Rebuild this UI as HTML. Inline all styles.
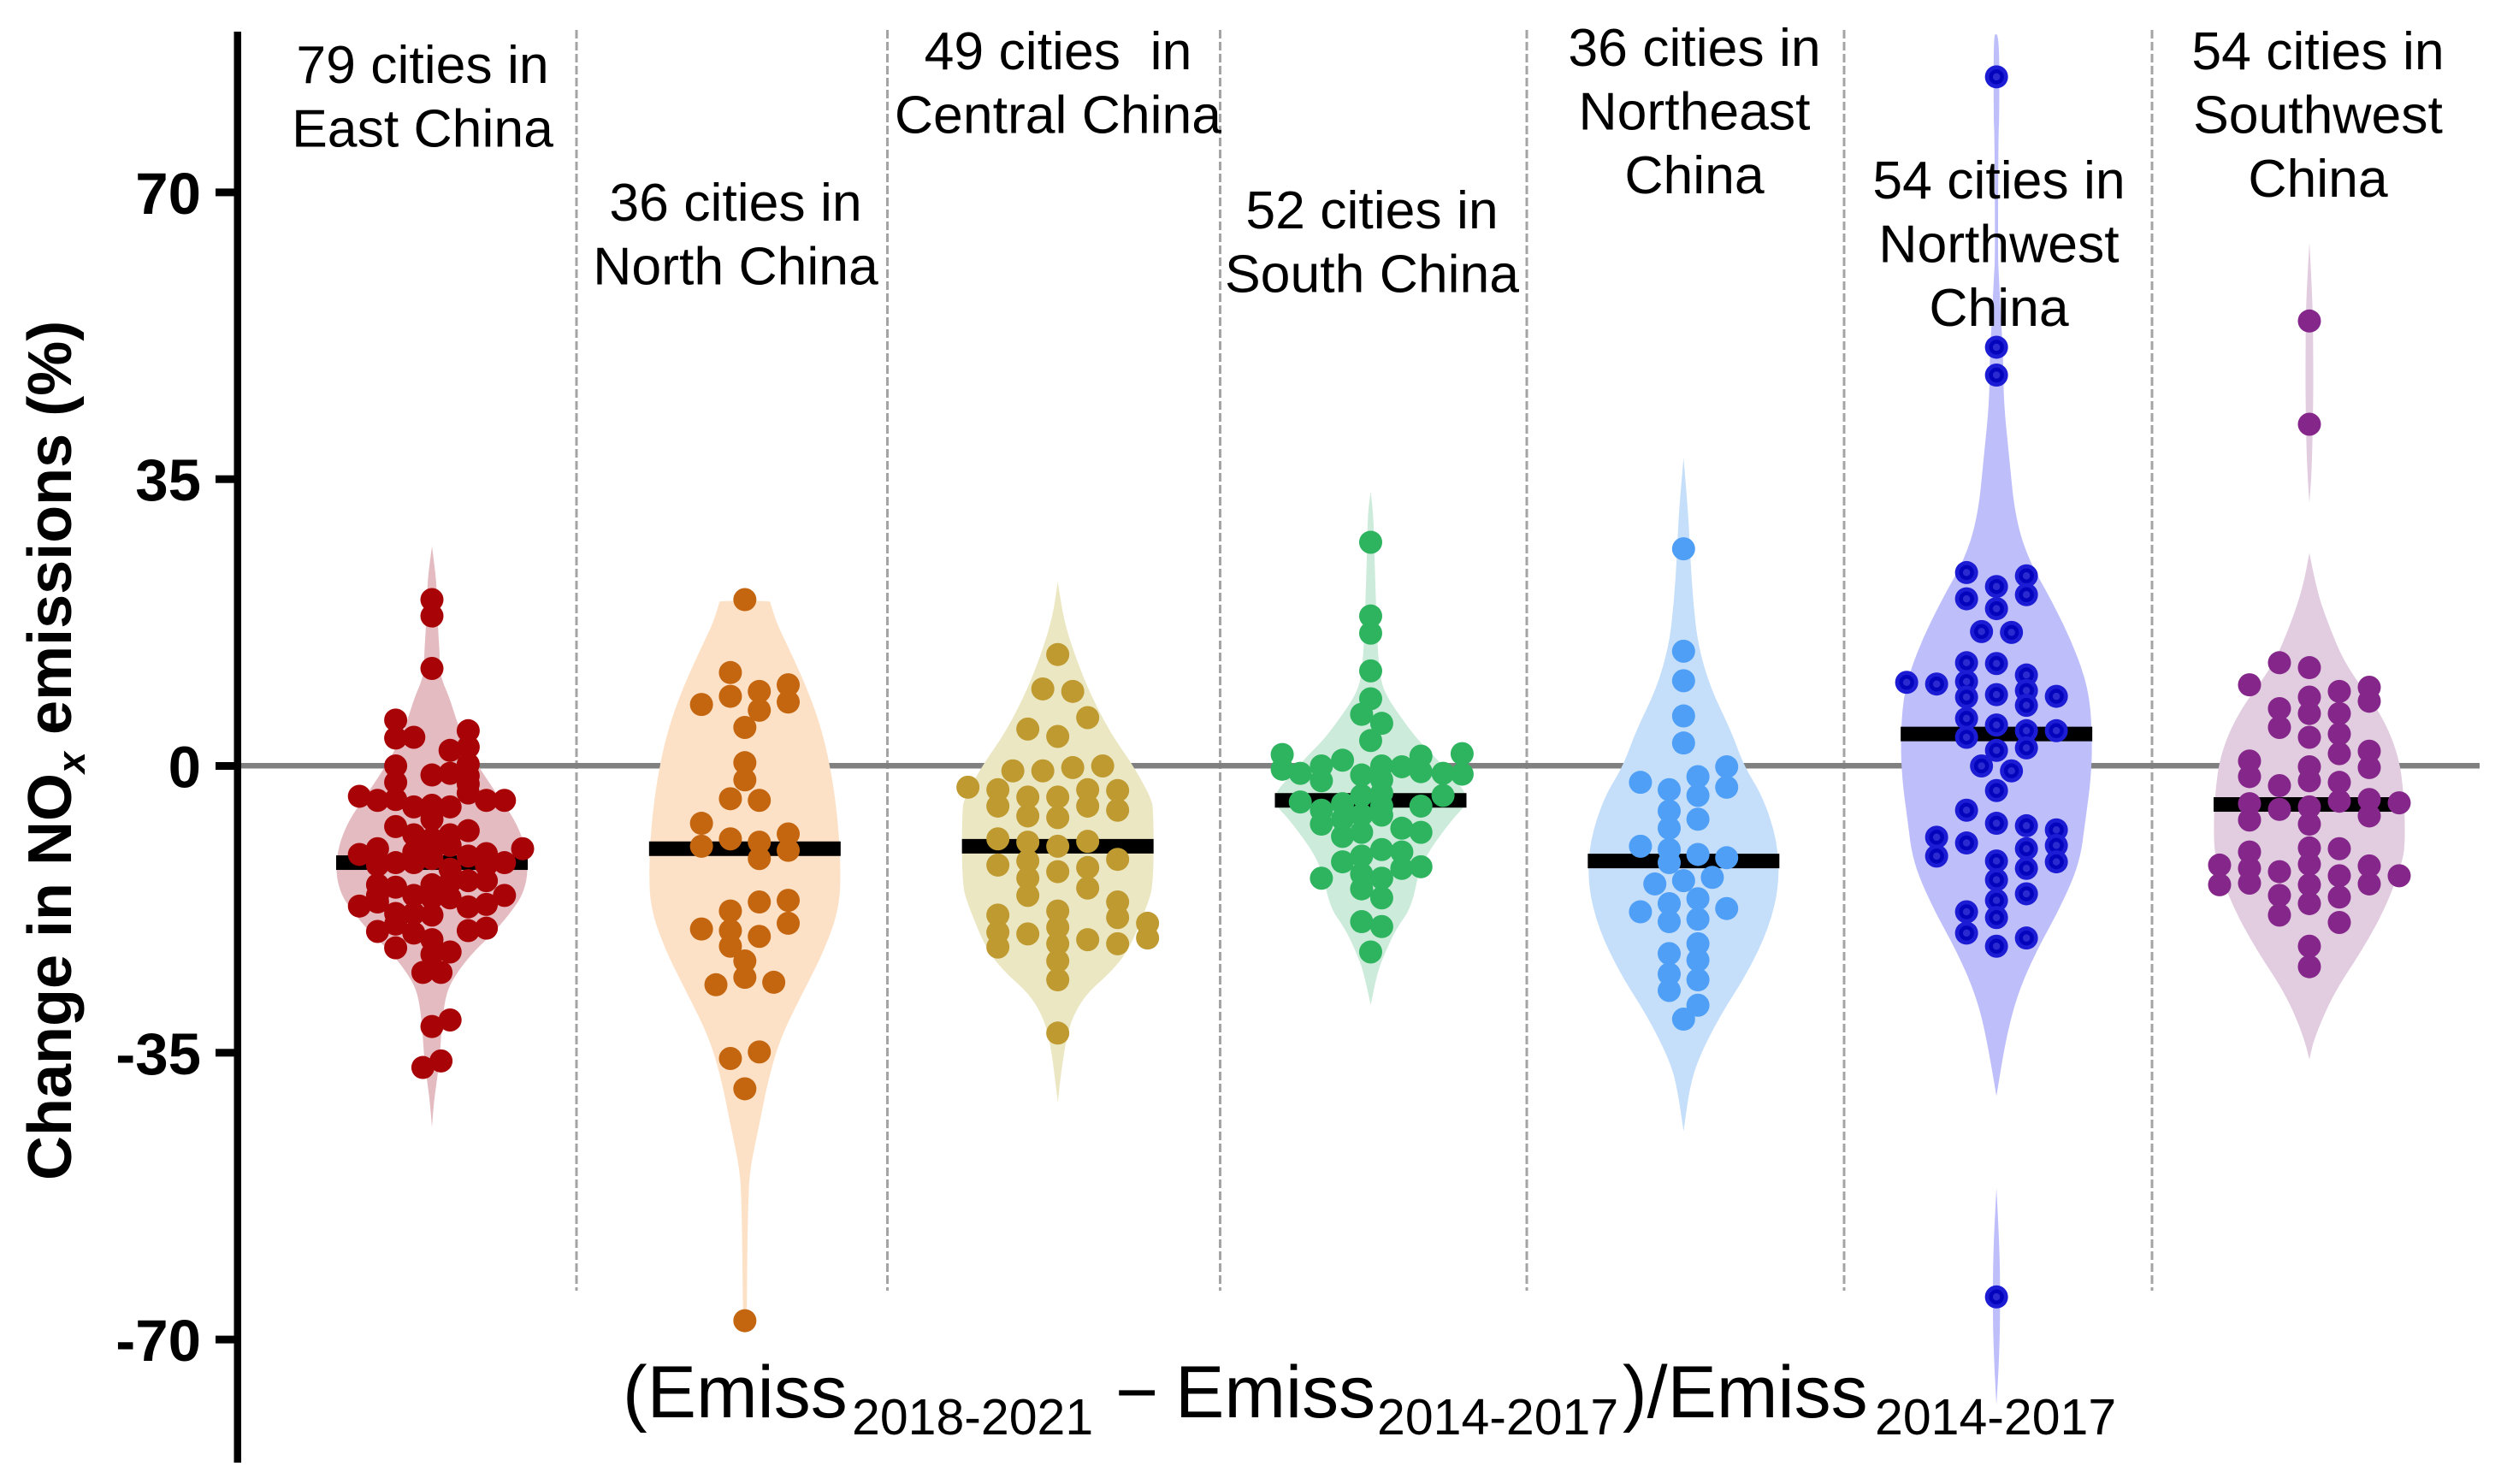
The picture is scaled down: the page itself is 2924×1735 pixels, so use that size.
<!DOCTYPE html>
<html lang="en">
<head>
<meta charset="utf-8">
<title>Change in NOx emissions by region</title>
<style>
html,body{margin:0;padding:0;background:#fff;width:2924px;height:1735px;overflow:hidden}
svg{display:block;font-family:"Liberation Sans",sans-serif}
</style>
</head>
<body>
<svg id="chart" xmlns="http://www.w3.org/2000/svg" width="2924" height="1735" viewBox="0 0 2924 1735">
  <rect width="2924" height="1735" fill="#fff"/>
  <g id="separators"></g>
  <rect x="277" y="892" width="2622" height="6.5" fill="#808080"/>
  <g id="violins"></g>
  <g id="medians"></g>
  <g id="points"></g>
  <g id="axis"></g>
  <g id="labels"></g>
  <text transform="translate(83,1380) rotate(-90)" font-size="72" font-weight="bold" fill="#000">Change in NO<tspan font-size="45" font-style="italic" dy="16">x</tspan><tspan dy="-16"> emissions (%)</tspan></text>
  <text y="1657" font-size="86" fill="#000"><tspan x="728">(Emiss</tspan><tspan x="996" y="1677" font-size="59">2018-2021</tspan><tspan x="1304" y="1657">−</tspan><tspan x="1374" y="1657">Emiss</tspan><tspan x="1610" y="1677" font-size="59">2014-2017</tspan><tspan x="1897" y="1657">)/Emiss</tspan><tspan x="2192" y="1677" font-size="59">2014-2017</tspan></text>
</svg>
<script>
// ---------- categories ----------
const regions = ['East China','North China','Central China','South China','Northeast China','Northwest China','Southwest China'];
const yTicks = [70,35,0,-35,-70];
const yTickLabels = ['70','35','0','-35','-70'];
const medians = [-11.8,-10.1,-9.8,-4.2,-11.6,3.9,-4.7];
const regionLabelLines = [
  ['79 cities in','East China'],
  ['36 cities in','North China'],
  ['49 cities  in','Central China'],
  ['52 cities in','South China'],
  ['36 cities in','Northeast','China'],
  ['54 cities in','Northwest','China'],
  ['54 cities in','Southwest','China']
];

// ---------- city values (percent) and swarm lanes ----------
const eastValues = [20.3,18.3,11.9,5.6,3.4,3.5,4.3,2.3,1.9,0.2,0,-1.2,-2.0,-1.1,-0.9,-2.2,-3.3,-3.7,-4.2,-4.1,-5.0,-4.8,-5.0,-4.2,-4.2,-7.4,-6.5,-8.4,-8.4,-7.9,-8.9,-10.8,-10.1,-10.1,-10.7,
  -12.1,-14.5,-15.8,-11.8,-14.8,-10.5,-11.8,-15.8,-10,-11.3,-14.5,-16.1,-9.7,-12.6,-14.2,-16.1,-11,-14,-12.1,-14,-11.8,
  -17.1,-16.6,-20.2,-22.2,-18,-19.3,-18,-20.4,-18.2,-21.2,-23,-22.7,-25.2,-25.2,-20.1,-19.8,-17.2,-16.9,-15.8,-31.8,-31,-36.8,-36];
const eastLanes = [0,0,0,-2,-2,-1,2,2,1,2,-2,2,-2,0,1,2,2,-4,-3,-2,-1,0,1,3,4,-2,0,-1,1,2,0,-4,-3,5,3,
  -3,-3,-3,-2,-2,-1,-1,-1,0,0,0,0,1,1,1,1,2,2,3,3,4,
  -4,-3,-3,-2,-2,-2,-1,-1,0,0,0,1,-0.5,0.5,2,3,2,3,4,0,1,-0.5,0.5];

const northValues = [20.3,11.4,7.5,8.5,9.1,6.8,9.9,7.8,4.7,0.4,-1.7,-4,-4.2,-7,-9.8,-8.9,-9.3,-11.3,-8.3,-10.3,-16.6,-16.4,-17.7,-19.2,-19.9,-20.1,-22,-20.8,-23.8,-25.8,-26.7,-26.4,-35.7,-34.9,-39.4,-67.7];
const northLanes = [0,-1,-3,-1,1,1,3,3,0,0,0,-1,1,-3,-3,-1,1,1,3,3,1,3,-1,3,-3,-1,-1,1,0,0,-2,2,-1,1,0,0];

const centralValues = [13.6,9.4,9.1,5.9,4.5,3.6,-0.6,-0.6,-0.2,0,-2.6,-2.9,-4.9,-3.8,-6.1,-3.8,-6.3,-2.9,-4.9,-3,-5.4,-8.9,-9.3,-9.8,-9.2,-12.1,-11.6,-13.7,-15.8,-12.9,-12.4,-14.9,-11.4,-18.2,-20.3,-22.1,-20.5,-17.7,-19.7,-21.7,-23.8,-26.1,-21.2,-16.6,-18.5,-21.7,-19.2,-21,-32.6];
const centralLanes = [0,-0.5,0.5,1,-1,0,-1.5,-0.5,0.5,1.5,-3,-2,-2,-1,-1,0,0,1,1,2,2,-2,-1,0,1,-2,-1,-1,-1,0,1,1,2,-2,-2,-2,-1,0,0,0,0,0,1,2,2,2,3,3,0];

const southValues = [27.3,18.3,16.2,11.6,8.2,6.3,5.2,3.1,1.4,-0.4,-0.9,0,-1.8,0.7,-1.1,0,-1.7,-3.3,-4.9,-0.1,1.2,-0.7,-0.9,-3.6,1.5,-1,-4.4,-4.9,-6,-5.4,-7.1,-4.6,-6.5,-8.6,-3.6,-6,-8.1,-7.6,-8.1,-10.2,-10.5,-11.7,-11,-13.2,-15,-12.5,-12.3,-13.7,-16.1,-13.7,-19,-19.6,-22.7];
const southLanes = [0,0,0,0,0,-0.45,0.55,0,-4.4,-4.4,-3.5,-2.45,-2.45,-1.4,-0.45,0.55,0.55,0.55,0.55,1.55,2.5,2.5,3.6,3.6,4.55,4.55,-3.5,2.5,0.55,-2.45,-2.45,-1.4,-1.4,-1.4,-0.45,-0.45,-0.45,1.55,2.5,0.55,1.55,-1.4,-0.45,-0.45,-0.45,1.55,2.5,0.55,0.55,-2.45,-0.45,0.55,0];

const northeastValues = [26.5,14,10.4,6.1,2.8,-0.1,-2.6,-1.3,-3.6,-2,-2.9,-5.5,-7.6,-6.5,-9.8,-10.2,-11.8,-10.8,-11.2,-14.4,-14,-13.6,-16.8,-19,-16.2,-18.7,-17.8,-17.4,-22.9,-25.4,-27.4,-21.7,-23.7,-26.1,-29.2,-30.9];
const northeastLanes = [0,0,0,0,0,3,3,1,1,-3,-1,-1,-1,1,-3,-1,-1,1,3,-2,0,2,-1,-1,1,1,-3,3,-1,-1,-1,1,1,1,1,0];

const northwestValues = [84.1,51.1,47.7,23.6,20.4,21.9,19.2,23.2,20.9,16.4,16.3,12.6,12.5,11.1,9.2,7.4,10.2,10,10.3,8.4,8.7,8.5,5.8,5,3.5,4.3,2.2,4.3,1.9,0,-0.6,-3,-5.4,-7,-7.3,-7.8,-9.7,-11.7,-8.7,-11,-9.4,-11.6,-13.9,-10.1,-12.5,-15.6,-16.4,-18.5,-17.8,-20.4,-22,-21,-64.8];
const northwestLanes = [0,0,0,-1,-1,0,0,1,1,-0.5,0.5,-1,0,1,1,1,-3,-2,-1,-1,0,2,-1,0,-1,1,1,2,0,-0.5,0.5,0,-1,0,1,2,2,2,-2,-2,-1,0,0,1,1,1,0,0,-1,-1,0,1,0];

const southwestValues = [54.3,41.7,9.9,12.6,12,7,4.7,8.4,6.4,3.5,9.1,6.4,3.9,1.5,9.6,7.9,1.8,-0.2,0.6,-1.3,-0.1,-1.8,-2.4,-2,-4.3,-4.6,-6.6,-5.3,-5,-7.1,-4.1,-6.1,-4.5,-12.1,-14.5,-10.5,-12.5,-14.3,-12.9,-15.8,-18.2,-10,-12,-14.5,-16.8,-10.1,-13.4,-16,-19.1,-12.2,-14.4,-13.4,-22,-24.5];
const southwestLanes = [0,0,-2,-1,0,-1,-1,0,0,0,1,1,1,1,2,2,2,2,-2,-2,0,0,-1,1,1,-2,-2,-1,0,0,2,2,3,-3,-3,-2,-2,-2,-1,-1,-1,0,0,0,0,1,1,1,1,2,2,3,0,0];

// ---------- violin profiles: value along y-axis, relative density 0..1 ----------
const eastProfileValues = [26.8,23.3,21.2,17.5,13.8,11.9,10.3,8.4,5.8,3.6,1,-1.2,-3.8,-6.5,-9.2,-11.8,-14,-16.1,-18.2,-20.4,-22.5,-24.6,-26.8,-28.9,-32.1,-35.8,-38.5,-41.1,-44.1];
const eastProfileDensity = [0,.04,.05,.06,.08,.08,.11,.18,.25,.32,.43,.55,.7,.86,.96,1,.99,.93,.8,.64,.45,.3,.18,.13,.1,.08,.05,.02,0];

const northProfileValues = [20.2,20.1,20,17.5,14.8,9.5,4.2,-1.2,-6.5,-11.8,-17.2,-22.5,-27.8,-33.2,-38.5,-43.8,-49.1,-52.8,-60,-68,-68.1];
const northProfileDensity = [0,.26,.265,.33,.44,.65,.81,.91,.97,1,.99,.83,.6,.37,.24,.15,.055,.036,.025,.02,0];

const centralProfileValues = [22.5,18.5,14.8,9.5,4.2,0,-3.8,-5.4,-14.5,-17.2,-22.5,-25.2,-27.8,-30.5,-33.2,-37.4,-41.1];
const centralProfileDensity = [0,.05,.14,.31,.54,.79,.97,1,1,.93,.74,.55,.3,.16,.09,.035,0];

const southProfileValues = [33.5,30.8,25.5,20.1,14.8,10.6,8.4,5.2,3.1,1,-1.2,-3.3,-4.9,-6.5,-11.8,-17.2,-19.8,-22.5,-25.2,-29.2];
const southProfileDensity = [0,.03,.04,.055,.07,.1,.17,.36,.5,.68,.84,1,.99,.85,.52,.43,.27,.16,.07,0];

const northeastProfileValues = [37.6,30.8,25.5,20.1,14.8,9.5,4.2,0,-3.8,-9.2,-14.5,-19.8,-25.2,-30.5,-35.8,-39.5,-44.6];
const northeastProfileDensity = [0,.05,.07,.1,.15,.28,.5,.63,.83,.98,1,.89,.67,.38,.15,.06,0];

const northwestProfileValues = [89.3,89.2,79,77,62,60,54,49.8,44.2,38,30.8,25.5,20.1,14.8,9.5,4.2,-1.2,-6.5,-11.8,-17.2,-22.5,-27.8,-33.2,-40.3];
const northwestProfileDensity = [0,.03,.03,.02,.015,.025,.05,.07,.076,.13,.19,.32,.58,.8,.96,1,.99,.93,.87,.67,.42,.22,.1,0];
const northwestLowerValues = [-51.5,-58,-64.8,-72,-78];
const northwestLowerDensity = [0,.03,.04,.03,0];

const southwestProfileValues = [26,21.7,17.5,12.2,6.8,1.5,-3.8,-9.2,-11.8,-17.2,-22.5,-27.8,-33.2,-35.8];
const southwestProfileDensity = [0,.07,.19,.38,.73,.93,.99,1,.97,.8,.55,.25,.05,0];
const southwestUpperValues = [63.9,56.4,50,44.2,36,32.1];
const southwestUpperDensity = [0,.036,.04,.04,.025,0];

// ---------- series wiring ----------
const seriesValues = [eastValues,northValues,centralValues,southValues,northeastValues,northwestValues,southwestValues];
const seriesLanes = [eastLanes,northLanes,centralLanes,southLanes,northeastLanes,northwestLanes,southwestLanes];
const seriesProfiles = [
  [[eastProfileValues,eastProfileDensity]],
  [[northProfileValues,northProfileDensity]],
  [[centralProfileValues,centralProfileDensity]],
  [[southProfileValues,southProfileDensity]],
  [[northeastProfileValues,northeastProfileDensity]],
  [[northwestProfileValues,northwestProfileDensity],[northwestLowerValues,northwestLowerDensity]],
  [[southwestProfileValues,southwestProfileDensity],[southwestUpperValues,southwestUpperDensity]]
];

// ---------- styling and scales ----------
const fillColors = ['#E4BBC0','#FDE1C6','#ECE7C3','#CDEBDA','#C5DFFB','#BEBEFB','#E2CCE0'];
const dotColors = ['#A80408','#C4650F','#BE9A30','#2EB45F','#4F9FF6','#1C1CD4','#84268A'];
const laneSteps = [21.2,16.9,35,23.5,16.8,35,35];
const labelCenters = [494,860,1237,1604,1981,2337,2710];
const labelFirstBaselines = [97,258,81,267,77,232,81];
const separatorPositions = [674,1037.5,1426.5,1785,2156,2516];
const DOT_R = 13.5, MAX_HALF = 112, LINE_GAP = 74.5;

function yScale(v){ return 895.5 - 9.58 * v; }
function xScale(i){ return 505 + 365.83 * i; }

const SVG_NS = 'http://www.w3.org/2000/svg';
function make(tag, parent, attrs){
  const el = document.createElementNS(SVG_NS, tag);
  for (const k in attrs) el.setAttribute(k, attrs[k]);
  parent.appendChild(el);
  return el;
}
function slug(s){ return s.toLowerCase().replace(/\s+/g,'-'); }

// Smooth outline: quadratic curves through the midpoints of the profile points.
function smoothSide(pts){
  let d = '';
  for (let k = 1; k < pts.length - 1; k++) {
    const mx = (pts[k][0] + pts[k+1][0]) / 2;
    const my = (pts[k][1] + pts[k+1][1]) / 2;
    d += 'Q' + pts[k][0].toFixed(1) + ' ' + pts[k][1].toFixed(1) + ' ' + mx.toFixed(1) + ' ' + my.toFixed(1);
  }
  const last = pts[pts.length - 1];
  d += 'L' + last[0].toFixed(1) + ' ' + last[1].toFixed(1);
  return d;
}

const gSep = document.getElementById('separators');
separatorPositions.forEach(function(x){
  const l = make('line', gSep, {x1:x,x2:x,y1:35,y2:1509,stroke:'#a4a4a4','stroke-width':3,'stroke-dasharray':'10 4'});
  
  
});

const gViolins = document.getElementById('violins');
const gMedians = document.getElementById('medians');
const gPoints = document.getElementById('points');

regions.forEach(function(name, i){
  const cx = xScale(i);
  seriesProfiles[i].forEach(function(profile){
    const vals = profile[0], dens = profile[1];
    const right = vals.map(function(v,k){ return [cx + dens[k]*MAX_HALF, yScale(v)]; });
    const left = vals.map(function(v,k){ return [cx - dens[k]*MAX_HALF, yScale(v)]; }).reverse();
    const d = 'M' + right[0][0].toFixed(1) + ' ' + right[0][1].toFixed(1) + smoothSide(right) + smoothSide(left) + 'Z';
    const p = make('path', gViolins, {d:d,fill:fillColors[i]});
    
    
  });

  const m = make('rect', gMedians, {x:cx-MAX_HALF,y:yScale(medians[i])-8.5,width:MAX_HALF*2,height:17,fill:'#000'});
  
  

  seriesValues[i].forEach(function(v,k){
    const px = cx + seriesLanes[i][k]*laneSteps[i];
    const c = make('circle', gPoints, {cx:px,cy:yScale(v),r:DOT_R,fill:dotColors[i]});
    
    
    if (i === 5) {
      const ring = make('circle', gPoints, {cx:px,cy:yScale(v),r:6.5,fill:'#2A2AD0',stroke:'#0404BC','stroke-width':4.5});
      
      
    }
  });
});

const gAxis = document.getElementById('axis');
const spine = make('rect', gAxis, {x:273.5,y:37,width:8.5,height:1673,fill:'#000'});


yTicks.forEach(function(t,k){
  const y = yScale(t);
  const tick = make('rect', gAxis, {x:252,y:y-4.5,width:22,height:9,fill:'#000'});
  
  
  const lab = make('text', gAxis, {x:235,y:y+25,'text-anchor':'end','font-size':69,'font-weight':'bold',fill:'#000'});
  lab.textContent = yTickLabels[k];
  
  
});

const gLabels = document.getElementById('labels');
regions.forEach(function(name,i){
  const t = make('text', gLabels, {'text-anchor':'middle','font-size':62.5,fill:'#000',style:'white-space:pre'});
  
  
  regionLabelLines[i].forEach(function(line,k){
    const s = make('tspan', t, {x:labelCenters[i],y:labelFirstBaselines[i]+k*LINE_GAP});
    s.textContent = line;
  });
});
</script>
</body>
</html>
